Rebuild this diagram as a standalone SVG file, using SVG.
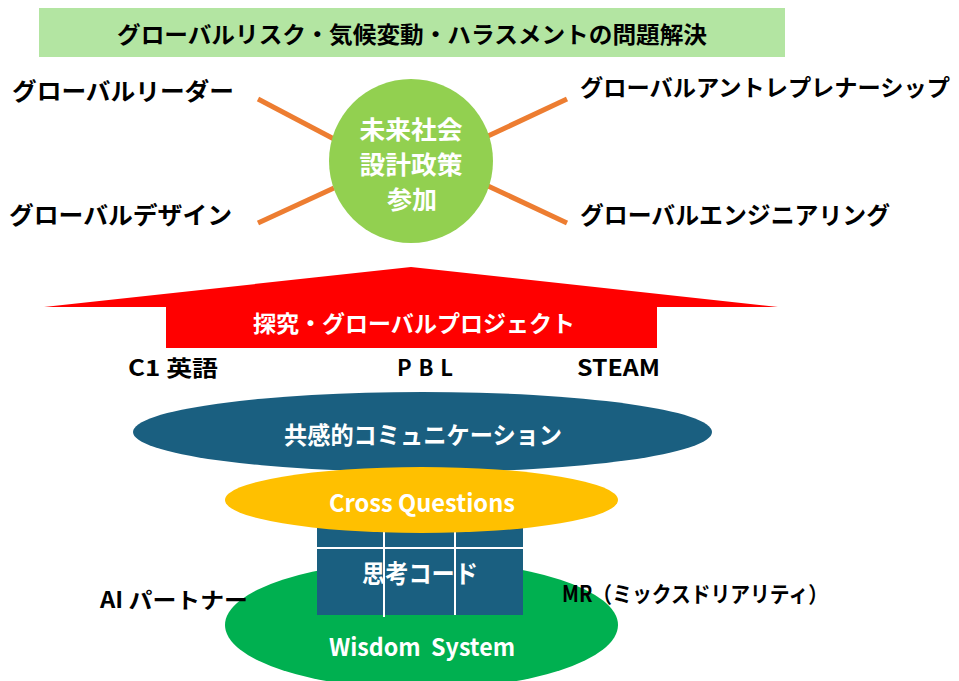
<svg xmlns="http://www.w3.org/2000/svg" width="959" height="681" viewBox="0 0 959 681">
<style>
text{font-family:"Noto Sans CJK JP","Noto Sans",sans-serif;font-weight:bold;dominant-baseline:central}
.k{fill:#000}
.w{fill:#fff}
.c{text-anchor:middle}
.ln{stroke:#ed7d31;stroke-width:5;fill:none}
.grid{stroke:#fff;stroke-width:2}
</style>
<rect width="959" height="681" fill="#fff"/>
<g id="title">
<rect x="39" y="8" width="746" height="49" fill="#b3e5a2"/>
<text class="k" x="117" y="33" font-size="23" textLength="590" lengthAdjust="spacingAndGlyphs">グローバルリスク・気候変動・ハラスメントの問題解決</text>
</g>
<g id="connectors">
<line class="ln" x1="258" y1="99" x2="334" y2="139"/>
<line class="ln" x1="258" y1="223" x2="334" y2="188"/>
<line class="ln" x1="488" y1="136" x2="567" y2="99"/>
<line class="ln" x1="488" y1="186" x2="567" y2="223"/>
</g>
<g id="center">
<circle cx="411" cy="161" r="82" fill="#92d050"/>
<text class="w c" x="411" y="128" font-size="25" textLength="103" lengthAdjust="spacingAndGlyphs">未来社会</text>
<text class="w c" x="411" y="163" font-size="25" textLength="103" lengthAdjust="spacingAndGlyphs">設計政策</text>
<text class="w c" x="412" y="198" font-size="25" textLength="50" lengthAdjust="spacingAndGlyphs">参加</text>
</g>
<g id="leader"><text class="k" x="12" y="89" font-size="24" textLength="222" lengthAdjust="spacingAndGlyphs">グローバルリーダー</text></g>
<g id="design"><text class="k" x="9" y="213" font-size="24" textLength="223" lengthAdjust="spacingAndGlyphs">グローバルデザイン</text></g>
<g id="entre"><text class="k" x="580" y="86" font-size="23" textLength="370" lengthAdjust="spacingAndGlyphs">グローバルアントレプレナーシップ</text></g>
<g id="eng"><text class="k" x="580" y="213" font-size="24" textLength="310" lengthAdjust="spacingAndGlyphs">グローバルエンジニアリング</text></g>
<g id="arrow">
<polygon points="411,267 778,307 657,307 657,348 166,348 166,307 44,307" fill="#ff0000"/>
<text class="w" x="253" y="322" font-size="23" textLength="322" lengthAdjust="spacingAndGlyphs">探究・グローバルプロジェクト</text>
</g>
<g id="c1"><text class="k" x="128" y="366" font-size="22" textLength="90" lengthAdjust="spacingAndGlyphs">C1 英語</text></g>
<g id="pbl"><text class="k" x="397" y="366" font-size="22" textLength="56" lengthAdjust="spacing">PBL</text></g>
<g id="steam"><text class="k" x="577" y="366" font-size="22" textLength="83" lengthAdjust="spacingAndGlyphs">STEAM</text></g>
<g id="empathy">
<ellipse cx="422.5" cy="432" rx="289.5" ry="40" fill="#1a5f80"/>
<text class="w" x="284" y="433" font-size="24" textLength="278" lengthAdjust="spacingAndGlyphs">共感的コミュニケーション</text>
</g>
<g id="wisdom">
<ellipse cx="421.5" cy="625" rx="196.5" ry="64" fill="#00b050"/>
<text class="w" x="329" y="645" font-size="24" textLength="186" lengthAdjust="spacingAndGlyphs">Wisdom&#160; System</text>
</g>
<g id="code">
<rect x="317" y="520" width="206" height="95" fill="#1a5f80"/>
<line class="grid" x1="317" y1="548" x2="523" y2="548"/>
<line class="grid" x1="384" y1="520" x2="384" y2="617"/>
<line class="grid" x1="455" y1="520" x2="455" y2="615"/>
<text class="w" x="362" y="572" font-size="25" textLength="116" lengthAdjust="spacingAndGlyphs">思考コード</text>
</g>
<g id="cross">
<ellipse cx="421.5" cy="500" rx="196.5" ry="33" fill="#ffc000"/>
<text class="w" x="329" y="501" font-size="24" textLength="186" lengthAdjust="spacingAndGlyphs">Cross Questions</text>
</g>
<g id="ai"><text class="k" x="100" y="598" font-size="22" textLength="148" lengthAdjust="spacingAndGlyphs">AI パートナー</text></g>
<g id="mr"><text class="k" x="562" y="592" font-size="22" textLength="266" lengthAdjust="spacingAndGlyphs">MR（ミックスドリアリティ）</text></g>
</svg>
